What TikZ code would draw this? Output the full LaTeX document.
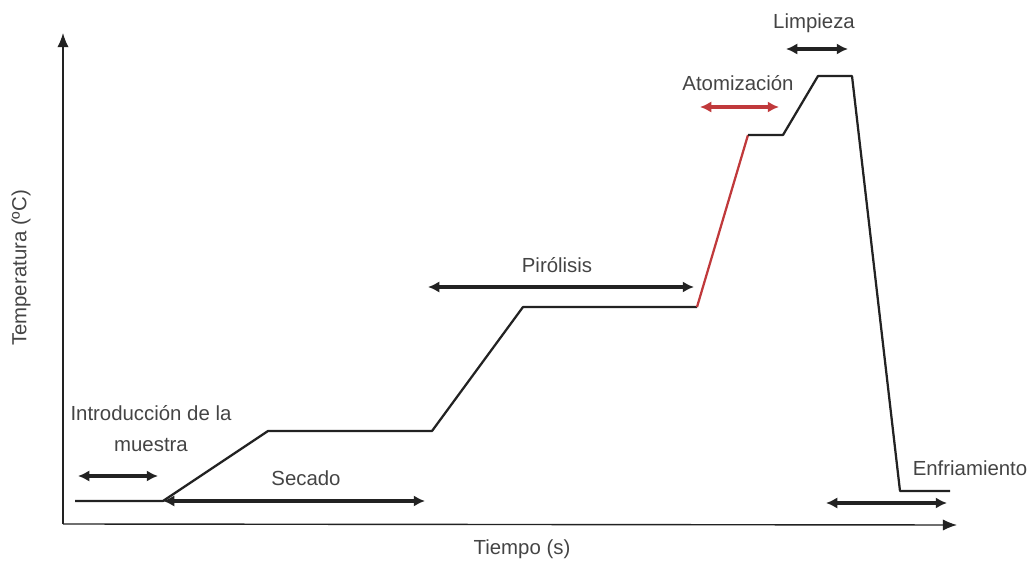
\documentclass[tikz,border=0pt]{standalone}
\usepackage{fontspec}
\setmainfont{Liberation Sans}
\usetikzlibrary{arrows.meta}
\definecolor{curvegray}{HTML}{222222}
\definecolor{labelgray}{HTML}{444444}
\definecolor{atomred}{HTML}{C0393B}
\tikzset{
  stagelabel/.style={text=labelgray, font=\fontsize{14.5}{17}\selectfont, inner sep=0pt, align=center},
  span/.style={{Latex[length=8pt,width=8pt]}-{Latex[length=8pt,width=8pt]}, line width=2.2pt, draw=curvegray},
  curve/.style={line width=1.6pt, draw=curvegray, line join=round}
}
\begin{document}
\begin{tikzpicture}[x=0.025cm, y=-0.025cm]
  \useasboundingbox (0,0) rectangle (1033,563);

  % Axes
  \coordinate (origin) at (63,524);
  \coordinate (ytop) at (63,33);
  \coordinate (xend) at (957,525);
  \draw[line width=1pt, draw=curvegray, -{Latex[length=10pt,width=8pt]}] (origin) -- (ytop);
  \draw[line width=1pt, draw=curvegray, -{Latex[length=10pt,width=8pt]}] (origin) -- (xend);
  \node[stagelabel] (xlabel) at (522,549) {Tiempo (s)};
  \node[stagelabel, rotate=90] (ylabel) at (21,268) {Temperatura (ºC)};

  % Temperature program
  \foreach \a/\b/\name in {75/501/p0, 163/501/p1, 268/431/p2, 432/431/p3,
                           523/307/p4, 697/307/p5, 748/135/p6, 783/135/p7,
                           818/76/p8, 852/76/p9, 900/491/p10, 950/491/p11} {
    \coordinate (\name) at (\a,\b);
  }
  \draw[curve] (p0) -- (p1) -- (p2) -- (p3) -- (p4) -- (p5);
  \draw[curve, draw=atomred] (p5) -- (p6);
  \draw[curve] (p6) -- (p7) -- (p8) -- (p9) -- (p10) -- (p11);

  % Stage spans
  \foreach \a/\b/\name in {78/476/intA, 158/476/intB, 163/501/secA, 425/501/secB,
                           428/287/pirA, 694/287/pirB, 700/107/atoA, 779/107/atoB,
                           786/49/limA, 848/49/limB, 826/503/enfA, 947/503/enfB} {
    \coordinate (\name) at (\a,\b);
  }
  \draw[span] (intA) -- (intB);
  \draw[span] (secA) -- (secB);
  \draw[span] (pirA) -- (pirB);
  \draw[span, draw=atomred] (atoA) -- (atoB);
  \draw[span] (limA) -- (limB);
  \draw[span] (enfA) -- (enfB);

  % Stage names
  \node[stagelabel] (intro) at (151,429) {Introducción de la\\[5pt]muestra};
  \node[stagelabel] (secado) at (306,478) {Secado};
  \node[stagelabel] (pirolisis) at (557,265) {Pirólisis};
  \node[stagelabel] (atomiz) at (738,83) {Atomización};
  \node[stagelabel] (limpieza) at (814,23) {Limpieza};
  \node[stagelabel] (enfriam) at (970,468) {Enfriamiento};
\end{tikzpicture}
\end{document}
